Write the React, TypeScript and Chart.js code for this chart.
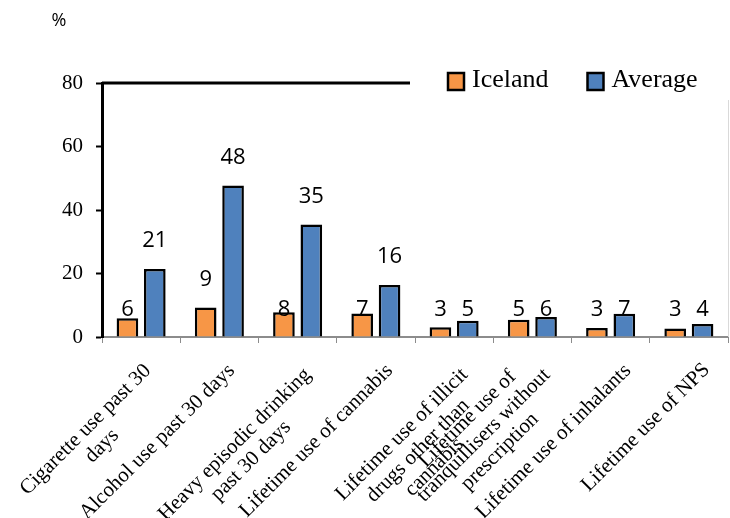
import React, { useEffect, useRef } from "react";
import { Chart, registerables } from "chart.js";

Chart.register(...registerables);

// ---- data ----
const categories: string[][] = [
  ["Cigarette use past 30", "days"],
  ["Alcohol use past 30 days"],
  ["Heavy episodic drinking", "past 30 days"],
  ["Lifetime use of cannabis"],
  ["Lifetime use of illicit", "drugs other than", "cannabis"],
  ["Lifetime use of", "tranquillisers without", "prescription"],
  ["Lifetime use of inhalants"],
  ["Lifetime use of NPS"],
];
const seriesNames = ["Iceland", "Average"];
const icelandValues = [5.9, 9.3, 7.8, 7.4, 3.1, 5.4, 2.8, 2.7];
const averageValues = [21.4, 47.7, 35.4, 16.4, 5.1, 6.3, 7.3, 4.1];
const yTickValues = [0, 20, 40, 60, 80];
const unitLabel = "%";

// ---- style / layout ----
const ORANGE = "#F79646";
const BLUE = "#4F81BD";
const SERIF = '"Liberation Serif", "Times New Roman", serif';
const SANS = '"Open Sans", "Liberation Sans", sans-serif';
const LABEL_FLOOR = 8.5; // small values get their label on a common line
// offset of each rotated category label block (top-right corner) from its tick
const labelOffsets: [number, number][] = [
  [-1.5, 22.5],
  [4, 22.5],
  [2, 26.5],
  [5.5, 22.5],
  [2.5, 26.5],
  [-9.8, 10.6],
  [9, 22.5],
  [9.5, 21.5],
];

const decorPlugin = {
  id: "decor",
  afterDraw(chart: any) {
    const ctx = chart.ctx as CanvasRenderingContext2D;
    const area = chart.chartArea;
    const xScale = chart.scales.x;
    const yScale = chart.scales.y;
    ctx.save();

    // partial top border at max value
    const yTop = yScale.getPixelForValue(80);
    ctx.strokeStyle = "#000";
    ctx.lineWidth = 3;
    ctx.beginPath();
    ctx.moveTo(area.left, yTop);
    ctx.lineTo(410, yTop);
    ctx.stroke();

    // faint right border
    ctx.strokeStyle = "#d9d9d9";
    ctx.lineWidth = 1;
    ctx.beginPath();
    ctx.moveTo(area.right + 0.5, 100);
    ctx.lineTo(area.right + 0.5, area.bottom);
    ctx.stroke();

    // unit label
    ctx.fillStyle = "#000";
    ctx.font = `18px ${SANS}`;
    ctx.textAlign = "center";
    ctx.textBaseline = "middle";
    ctx.fillText(unitLabel, 59, 21);

    // legend
    ctx.font = `26px ${SERIF}`;
    ctx.textAlign = "left";
    ctx.textBaseline = "alphabetic";
    let lx = 448;
    chart.data.datasets.forEach((ds: any) => {
      ctx.fillStyle = ds.backgroundColor;
      ctx.fillRect(lx, 73, 16, 17);
      ctx.strokeStyle = "#000";
      ctx.lineWidth = 2.5;
      ctx.strokeRect(lx, 73, 16, 17);
      ctx.fillStyle = "#000";
      ctx.fillText(ds.label, lx + 24, 87);
      lx += 24 + ctx.measureText(ds.label).width + 39;
    });

    // data labels
    ctx.font = `22px ${SANS}`;
    ctx.textAlign = "center";
    ctx.textBaseline = "middle";
    ctx.fillStyle = "#000";
    chart.data.datasets.forEach((ds: any, di: number) => {
      const meta = chart.getDatasetMeta(di);
      meta.data.forEach((el: any, i: number) => {
        const v = ds.data[i] as number;
        const y = v >= LABEL_FLOOR ? el.y - 28 : yScale.getPixelForValue(LABEL_FLOOR);
        ctx.fillText(String(Math.round(v)), el.x, y);
      });
    });

    // rotated category labels
    ctx.font = `21px ${SERIF}`;
    const lh = 23;
    (chart.data.labels as string[][]).forEach((lines, i) => {
      const tx = xScale.getPixelForValue(i);
      const [dx, dy] = labelOffsets[i];
      const maxW = Math.max(...lines.map((l) => ctx.measureText(l).width));
      ctx.save();
      ctx.translate(tx + dx, area.bottom + dy);
      ctx.rotate(-Math.PI / 4);
      ctx.textAlign = "center";
      ctx.textBaseline = "middle";
      lines.forEach((l, li) => {
        ctx.fillText(l, -maxW / 2, lh / 2 + li * lh);
      });
      ctx.restore();
    });

    ctx.restore();
  },
};

export default function App() {
  const ref = useRef<HTMLCanvasElement>(null);
  useEffect(() => {
    if (!ref.current) return;
    const chart = new Chart(ref.current, {
      type: "bar",
      data: {
        labels: categories as any,
        datasets: [
          {
            label: seriesNames[0],
            data: icelandValues,
            backgroundColor: ORANGE,
            borderColor: "#000",
            borderWidth: 2.5,
            categoryPercentage: 0.7,
            barPercentage: 0.79,
          },
          {
            label: seriesNames[1],
            data: averageValues,
            backgroundColor: BLUE,
            borderColor: "#000",
            borderWidth: 2.5,
            categoryPercentage: 0.7,
            barPercentage: 0.79,
          },
        ],
      },
      options: {
        animation: false,
        responsive: false,
        devicePixelRatio: 1,
        layout: { padding: { top: 83, right: 2, bottom: 0, left: 0 } },
        plugins: { legend: { display: false }, tooltip: { enabled: false } },
        scales: {
          x: {
            ticks: { display: false },
            grid: {
              drawOnChartArea: false,
              drawTicks: true,
              tickLength: 6,
              tickColor: "#8c8c8c",
              tickWidth: 1,
            },
            border: { color: "#8c8c8c", width: 2 },
            afterFit: (s: any) => {
              s.height = 181;
            },
          },
          y: {
            min: 0,
            max: 80,
            afterBuildTicks: (s: any) => {
              s.ticks = yTickValues.map((v) => ({ value: v }));
            },
            ticks: {
              font: { family: SERIF, size: 21 },
              color: "#000",
              padding: 13,
            },
            grid: {
              drawOnChartArea: false,
              drawTicks: true,
              tickLength: 6,
              tickColor: "#000",
              tickWidth: 2,
            },
            border: { color: "#000", width: 3 },
            afterFit: (s: any) => {
              s.width = 102;
            },
          },
        },
      },
      plugins: [decorPlugin],
    });
    return () => chart.destroy();
  }, []);
  return (
    <div style={{ position: "fixed", left: 0, top: 0, width: 730, height: 518, background: "#fff" }}>
      <canvas ref={ref} width={730} height={518} />
    </div>
  );
}
